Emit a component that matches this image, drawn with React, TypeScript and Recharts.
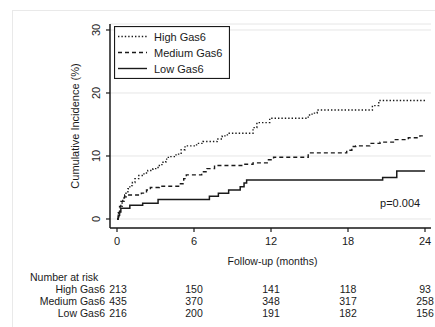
import React from 'react';
import { LineChart, Line, XAxis, YAxis, CartesianGrid, ReferenceDot, Legend } from 'recharts';

const FONT = '"Liberation Sans", Arial, sans-serif';
const INK = '#1a1a1a';

// Step-function points (months, cumulative incidence %)
const highTimes = [0, 0.15, 0.25, 0.4, 0.55, 0.7, 0.85, 1.0, 1.2, 1.4, 1.7, 2.1, 2.4, 2.8, 3.2, 3.5, 3.8, 4.0, 4.6, 5.0, 5.3, 6.2, 6.7, 7.8, 8.2, 8.6, 10.6, 10.9, 11.9, 14.9, 15.2, 15.6, 19.9, 20.4, 24];
const highValues = [0, 1.0, 2.0, 2.8, 3.5, 4.2, 4.8, 5.3, 5.8, 6.4, 6.9, 7.3, 7.7, 8.0, 8.5, 9.0, 9.5, 9.9, 10.3, 11.0, 11.6, 12.0, 12.3, 12.7, 13.2, 13.6, 14.5, 15.3, 16.0, 16.5, 16.8, 17.3, 18.0, 18.8, 18.8];

const mediumTimes = [0, 0.1, 0.2, 0.3, 0.45, 0.6, 1.9, 2.3, 2.6, 3.3, 4.8, 5.2, 5.4, 6.6, 7.0, 7.6, 9.8, 10.6, 11.8, 12.2, 14.9, 17.9, 18.3, 18.6, 19.7, 20.5, 21.6, 22.7, 23.6, 24];
const mediumValues = [0, 1.0, 2.0, 2.8, 3.4, 3.8, 4.1, 4.6, 5.0, 5.2, 5.6, 6.4, 7.0, 7.5, 8.0, 8.5, 8.7, 8.9, 9.4, 9.8, 10.5, 10.9, 11.5, 11.6, 12.0, 12.2, 12.6, 12.9, 13.2, 13.2];

const lowTimes = [0, 0.1, 0.2, 0.3, 1.0, 2.0, 3.2, 7.2, 7.9, 8.7, 9.6, 9.9, 10.1, 20.7, 21.8, 24];
const lowValues = [0, 0.6, 1.1, 1.7, 2.2, 2.5, 3.1, 3.6, 4.1, 4.6, 5.1, 5.7, 6.2, 6.6, 7.6, 7.6];

const xTicks = [0, 6, 12, 18, 24];
const yTicks = [0, 10, 20, 30];

const riskLabels = ['High Gas6', 'Medium Gas6', 'Low Gas6'];
const riskHigh = [213, 150, 141, 118, 93];
const riskMedium = [435, 370, 348, 317, 258];
const riskLow = [216, 200, 191, 182, 156];
const riskRows = [riskHigh, riskMedium, riskLow];

const seriesNames = ['High Gas6', 'Medium Gas6', 'Low Gas6'];
const seriesDash = ['1.4 2', '4 3', undefined];

const toPoints = (t: number[], v: number[]) => t.map((x, i) => ({ t: x, v: v[i] }));
const highData = toPoints(highTimes, highValues);
const mediumData = toPoints(mediumTimes, mediumValues);
const lowData = toPoints(lowTimes, lowValues);

const XTick = (props: any) => {
  const { x, y, payload } = props;
  const i = xTicks.indexOf(payload.value);
  return (
    <g fontFamily={FONT} fill={INK}>
      <text x={x} y={y + 11} textAnchor="middle" fontSize={11}>{payload.value}</text>
      {riskRows.map((row, r) => (
        <text key={r} x={x + (i === 0 ? 1 : 0)} y={y + 59 + r * 12} textAnchor="middle" fontSize={10.5}>{row[i]}</text>
      ))}
    </g>
  );
};

const YTick = (props: any) => {
  const { x, y, payload } = props;
  const bx = x - 4;
  return (
    <text x={bx} y={y} transform={`rotate(-90, ${bx}, ${y})`} textAnchor="middle" fontSize={11} fontFamily={FONT} fill={INK}>
      {payload.value}
    </text>
  );
};

const XTitle = (props: any) => {
  const vb = props.viewBox || { x: 110, y: 228, width: 321, height: 99 };
  const cx = vb.x + vb.width / 2 + 2;
  return (
    <g fontFamily={FONT} fill={INK} fontSize={10.5}>
      <text x={cx} y={vb.y + 37} textAnchor="middle">Follow-up (months)</text>
      <text x={vb.x - 80} y={vb.y + 53} textAnchor="start">Number at risk</text>
      {riskLabels.map((l, r) => (
        <text key={l} x={vb.x - 5} y={vb.y + 65 + r * 12} textAnchor="end">{l}</text>
      ))}
    </g>
  );
};

const YTitle = (props: any) => {
  const vb = props.viewBox || { x: 0, y: 24, width: 110, height: 204 };
  const bx = 79;
  const cy = vb.y + vb.height / 2;
  return (
    <text x={bx} y={cy} transform={`rotate(-90, ${bx}, ${cy})`} textAnchor="middle" fontSize={11} fontFamily={FONT} fill={INK}>
      Cumulative Incidence (%)
    </text>
  );
};

const LegendBox = () => (
  <svg width={116} height={53} style={{ display: 'block' }}>
    <rect x={0.5} y={0.5} width={115} height={52} fill="#fff" stroke={INK} strokeWidth={1.2} />
    {seriesNames.map((n, i) => (
      <g key={n}>
        <line x1={4} x2={33} y1={10.5 + i * 16} y2={10.5 + i * 16} stroke={INK} strokeWidth={1.4} strokeDasharray={seriesDash[i]} />
        <text x={40} y={14.5 + i * 16} fontSize={11} fontFamily={FONT} fill={INK}>{n}</text>
      </g>
    ))}
  </svg>
);

const PText = (props: any) => (
  <text x={props.cx} y={props.cy} fontSize={11} fontFamily={FONT} fill={INK}>p=0.004</text>
);

export default function App() {
  return (
    <div style={{ position: 'absolute', left: 0, top: 0, width: 435, height: 327, background: '#fff', overflow: 'hidden' }}>
      <div style={{ position: 'absolute', left: 12, top: 10, width: 430, height: 330, borderTop: '1px solid #e9e9e9', borderLeft: '1px solid #e9e9e9' }} />
      <div style={{ position: 'absolute', left: 0, top: 0 }}>
        <LineChart width={435} height={327} margin={{ top: 24, right: 4, left: 0, bottom: 0 }}>
          <CartesianGrid horizontal={true} vertical={false} stroke="#e6e6e6" strokeWidth={1} />
          <XAxis
            dataKey="t"
            type="number"
            domain={[0, 24]}
            ticks={xTicks}
            allowDataOverflow
            padding={{ left: 7, right: 6 }}
            height={99}
            tickSize={4}
            tick={<XTick />}
            axisLine={{ stroke: INK, strokeWidth: 1.5 }}
            tickLine={{ stroke: INK, strokeWidth: 1.2 }}
            label={{ content: XTitle }}
          />
          <YAxis
            type="number"
            domain={[-1.43, 30.95]}
            ticks={yTicks}
            allowDataOverflow
            width={110}
            tickSize={4}
            tick={<YTick />}
            axisLine={{ stroke: INK, strokeWidth: 1.5 }}
            tickLine={{ stroke: INK, strokeWidth: 1.2 }}
            label={{ content: YTitle }}
          />
          <Legend
            layout="vertical"
            align="center"
            verticalAlign="middle"
            content={LegendBox}
            wrapperStyle={{ position: 'absolute', left: 114, top: 26, width: 116, height: 53 }}
          />
          <Line data={highData} dataKey="v" name="High Gas6" type="stepAfter" stroke={INK} strokeWidth={1.4} strokeDasharray="1.4 2" dot={false} isAnimationActive={false} />
          <Line data={mediumData} dataKey="v" name="Medium Gas6" type="stepAfter" stroke={INK} strokeWidth={1.4} strokeDasharray="4 3" dot={false} isAnimationActive={false} />
          <Line data={lowData} dataKey="v" name="Low Gas6" type="stepAfter" stroke={INK} strokeWidth={1.5} dot={false} isAnimationActive={false} />
          <ReferenceDot x={20.5} y={1.9} r={0} shape={PText} />
        </LineChart>
      </div>
    </div>
  );
}
